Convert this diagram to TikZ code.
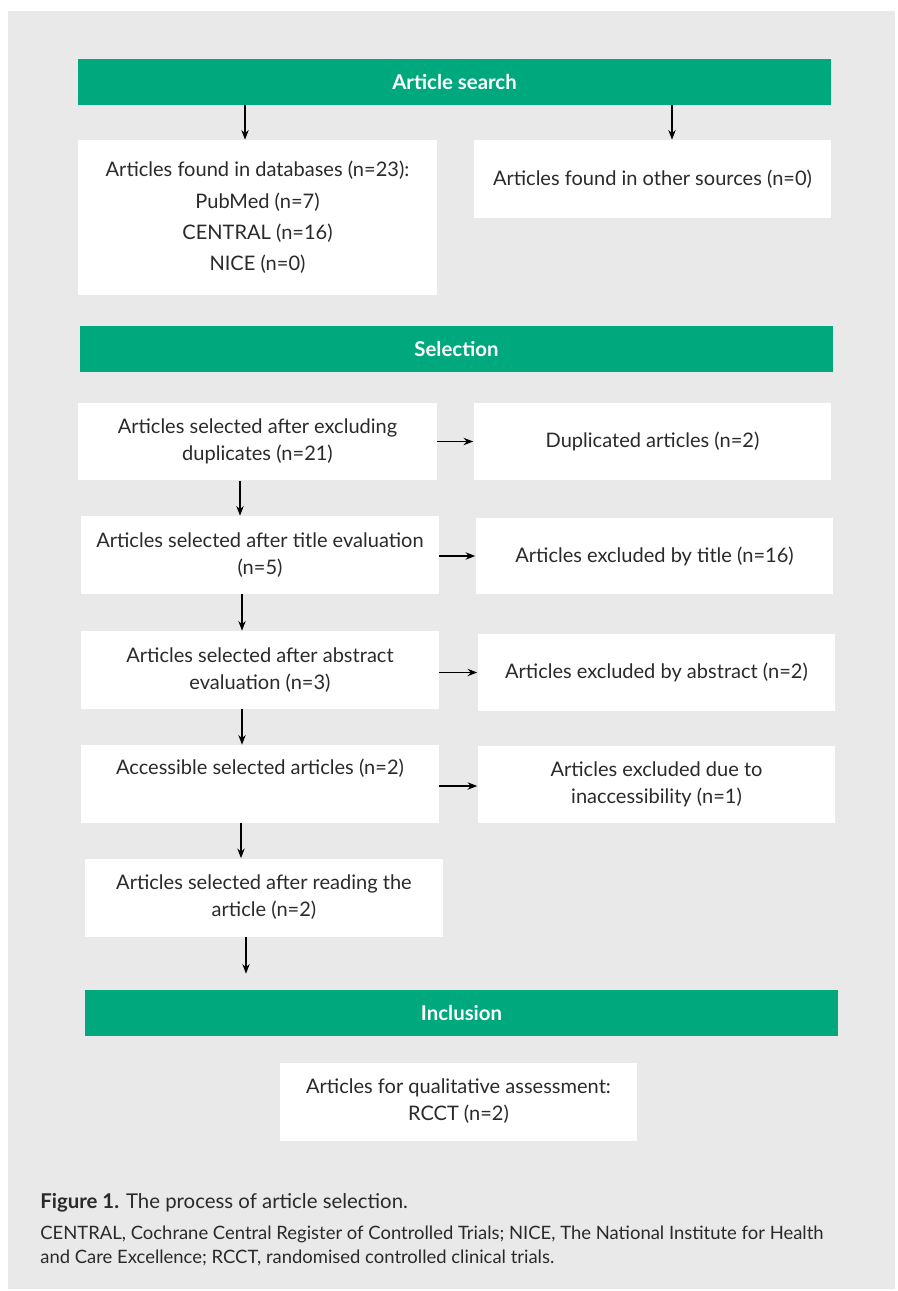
\documentclass[tikz,border=0pt]{standalone}
\usepackage{fontspec}
\setmainfont{Lato}
\usetikzlibrary{arrows.meta}

\definecolor{headgreen}{HTML}{00A87E}
\definecolor{pagegray}{HTML}{E9E9E9}
\definecolor{inkgray}{HTML}{2A2A2A}

\begin{document}
\begin{tikzpicture}[x=0.02cm,y=-0.02cm,
	every node/.style={text=inkgray, font=\fontsize{11.4}{15.4}\selectfont},
	head/.style={fill=headgreen, text=white, inner sep=0pt,
		minimum width=15.06cm, minimum height=0.92cm,
		font=\fontsize{11.6}{13}\bfseries\selectfont},
	box/.style={fill=white, inner sep=0pt, align=center,
		minimum width=7.16cm, minimum height=1.56cm},
	arr/.style={-{Stealth[length=5.5pt,width=4.2pt]}, line width=0.7pt, black}]
	\useasboundingbox (0,0) rectangle (897,1291);
	\fill[pagegray] (8,11) rectangle (895,1289);

	% article search
	\node[head] (search) at (454.5,82) {Article search};
	\node[box, minimum width=7.18cm, minimum height=3.1cm,
		font=\fontsize{11.4}{17.8}\selectfont] (db) at (257.5,217.5)
		{Articles found in databases (n=23):\\ PubMed (n=7)\\ CENTRAL (n=16)\\ NICE (n=0)};
	\node[box] (other) at (652.5,179) {Articles found in other sources (n=0)};
	\draw[arr] ([xshift=-0.25cm]db.north |- search.south) -- ([xshift=-0.25cm]db.north);
	\draw[arr] ([xshift=0.39cm]other.north |- search.south) -- ([xshift=0.39cm]other.north);

	% selection
	\node[head] (select) at (456.5,349) {Selection};
	\node[box, minimum width=7.18cm] (dedup) at (257.5,441.5)
		{Articles selected after excluding\\ duplicates (n=21)};
	\node[box] (dup) at (652.5,441.5) {Duplicated articles (n=2)};
	\node[box] (title) at (260,555) {Articles selected after title evaluation\\ (n=5)};
	\node[box, minimum height=1.52cm] (extitle) at (654.5,556) {Articles excluded by title (n=16)};
	\node[box] (abstr) at (260,670) {Articles selected after abstract\\ evaluation (n=3)};
	\node[box, minimum height=1.54cm] (exabstr) at (656.5,672.5) {Articles excluded by abstract (n=2)};
	\node[box] (access) at (260,784) {Accessible selected articles (n=2)\\ \strut};
	\node[box, minimum height=1.54cm] (exaccess) at (656.5,784.5)
		{Articles excluded due to\\ inaccessibility (n=1)};
	\node[box] (read) at (264,897.5) {Articles selected after reading the\\ article (n=2)};

	\draw[arr] (dedup) -- (dup);
	\draw[arr] (title.east |- extitle) -- (extitle);
	\draw[arr] (abstr.east |- exabstr) -- (exabstr);
	\draw[arr] (access.east |- 0,786) -- (exaccess.west |- 0,786);

	\draw[arr] ([xshift=-0.35cm]dedup.south) -- ([xshift=-0.35cm]dedup.south |- title.north);
	\draw[arr] ([xshift=-0.36cm]title.south) -- ([xshift=-0.36cm]title.south |- abstr.north);
	\draw[arr] ([xshift=-0.36cm]abstr.south) -- ([xshift=-0.36cm]abstr.south |- access.north);
	\draw[arr] ([xshift=-0.38cm]access.south) -- ([xshift=-0.38cm]access.south |- read.north);

	% inclusion
	\node[head] (incl) at (461.5,1013) {Inclusion};
	\node[box, minimum width=7.14cm] (final) at (458.5,1101.5)
		{Articles for qualitative assessment:\\ RCCT (n=2)};
	\draw[arr, shorten >=0.32cm] ([xshift=-0.36cm]read.south) -- ([xshift=-0.36cm]read.south |- incl.north);

	% caption
	\node[anchor=west, inner sep=0pt, font=\fontsize{11.6}{13}\selectfont] (figcap) at (40,1203)
		{\textbf{Figure 1.} The process of article selection.};
	\node[anchor=north west, inner sep=0pt, align=left, font=\fontsize{10.5}{13.4}\selectfont] (legend) at (40,1226)
		{CENTRAL, Cochrane Central Register of Controlled Trials; NICE, The National Institute for Health\\
		and Care Excellence; RCCT, randomised controlled clinical trials.};
\end{tikzpicture}
\end{document}
